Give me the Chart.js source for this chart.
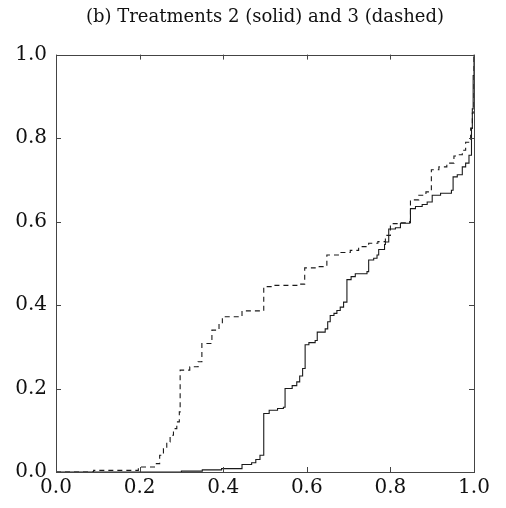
<!DOCTYPE html>
<html>
<head>
<meta charset="utf-8">
<script src="https://cdn.jsdelivr.net/npm/chart.js@4/dist/chart.umd.min.js"></script>
<style>
  html, body { margin: 0; padding: 0; background: #fff; }
  #wrap { width: 506px; height: 508px; position: relative; }
</style>
</head>
<body>
<div id="wrap"><canvas id="chart-ecdf"></canvas></div>
<script>
// Treatment 2 (solid) empirical CDF
const solidX = [0.0, 0.30, 0.35, 0.396, 0.445, 0.468, 0.478, 0.488, 0.497, 0.51, 0.53, 0.544, 0.548, 0.565, 0.576, 0.583, 0.59, 0.596, 0.605, 0.62, 0.625, 0.644, 0.65, 0.656, 0.665, 0.672, 0.68, 0.688, 0.696, 0.706, 0.716, 0.744, 0.748, 0.76, 0.768, 0.772, 0.786, 0.788, 0.796, 0.812, 0.824, 0.846, 0.848, 0.86, 0.876, 0.888, 0.9, 0.92, 0.946, 0.95, 0.96, 0.972, 0.98, 0.988, 0.994, 0.996, 0.998, 1.0];
const solidY = [0.0, 0.002, 0.005, 0.008, 0.018, 0.022, 0.03, 0.04, 0.14, 0.148, 0.152, 0.155, 0.2, 0.207, 0.216, 0.23, 0.248, 0.305, 0.31, 0.315, 0.335, 0.343, 0.36, 0.375, 0.38, 0.387, 0.395, 0.407, 0.461, 0.468, 0.475, 0.48, 0.508, 0.512, 0.52, 0.533, 0.545, 0.551, 0.582, 0.585, 0.596, 0.6, 0.631, 0.636, 0.641, 0.647, 0.663, 0.668, 0.675, 0.707, 0.712, 0.731, 0.74, 0.759, 0.823, 0.87, 0.95, 1.0];

// Treatment 3 (dashed) empirical CDF
const dashedX = [0.0, 0.09, 0.197, 0.24, 0.248, 0.257, 0.265, 0.273, 0.281, 0.289, 0.295, 0.297, 0.32, 0.34, 0.349, 0.373, 0.39, 0.398, 0.445, 0.497, 0.52, 0.584, 0.595, 0.62, 0.648, 0.68, 0.704, 0.724, 0.748, 0.77, 0.788, 0.8, 0.82, 0.848, 0.868, 0.885, 0.898, 0.916, 0.935, 0.952, 0.96, 0.972, 0.98, 0.992, 0.996, 1.0];
const dashedY = [0.0, 0.004, 0.012, 0.02, 0.04, 0.056, 0.072, 0.088, 0.104, 0.12, 0.144, 0.244, 0.252, 0.264, 0.308, 0.34, 0.356, 0.372, 0.386, 0.444, 0.447, 0.45, 0.489, 0.492, 0.52, 0.526, 0.531, 0.54, 0.548, 0.552, 0.567, 0.595, 0.597, 0.652, 0.663, 0.671, 0.724, 0.731, 0.74, 0.757, 0.76, 0.771, 0.79, 0.824, 0.86, 1.0];

const tickValues = [0, 0.2, 0.4, 0.6, 0.8, 1.0];
const titleText = '(b) Treatments 2 (solid) and 3 (dashed)';

const FONT = "'DejaVu Serif', 'Liberation Serif', serif";
const LINE = '#1a1a1a';
const FRAME = '#444';

const toPoints = (xs, ys) => xs.map((x, i) => ({ x, y: ys[i] }));

// Box frame with short inward ticks on all four sides
const framePlugin = {
  id: 'frame',
  afterDraw(chart) {
    const { ctx, chartArea: a, scales } = chart;
    const len = 5;
    ctx.save();
    ctx.strokeStyle = FRAME;
    ctx.lineWidth = 1;
    ctx.strokeRect(Math.round(a.left) + 0.5, Math.round(a.top) + 0.5, Math.round(a.right - a.left), Math.round(a.bottom - a.top));
    ctx.beginPath();
    tickValues.forEach(v => {
      const px = Math.round(scales.x.getPixelForValue(v)) + 0.5;
      ctx.moveTo(px, a.bottom); ctx.lineTo(px, a.bottom - len);
      ctx.moveTo(px, a.top); ctx.lineTo(px, a.top + len);
      const py = Math.round(scales.y.getPixelForValue(v)) + 0.5;
      ctx.moveTo(a.left, py); ctx.lineTo(a.left + len, py);
      ctx.moveTo(a.right, py); ctx.lineTo(a.right - len, py);
    });
    ctx.stroke();
    ctx.restore();
  },
};

new Chart(document.getElementById('chart-ecdf'), {
  type: 'line',
  data: {
    datasets: [
      {
        label: 'Treatment 2',
        data: toPoints(solidX, solidY),
        stepped: true,
        borderColor: LINE,
        borderWidth: 1.1,
        pointRadius: 0,
        fill: false,
      },
      {
        label: 'Treatment 3',
        data: toPoints(dashedX, dashedY),
        stepped: true,
        borderColor: LINE,
        borderWidth: 1.1,
        borderDash: [5, 4],
        pointRadius: 0,
        fill: false,
      },
    ],
  },
  options: {
    responsive: true,
    maintainAspectRatio: false,
    animation: false,
    layout: { padding: { left: 0, right: 32, top: 0, bottom: 0 } },
    plugins: {
      legend: { display: false },
      tooltip: { enabled: false },
      title: {
        display: true,
        text: titleText,
        fullSize: false,
        color: '#111',
        font: { family: FONT, size: 18, weight: 'normal' },
        padding: { top: 7, bottom: 26 },
      },
    },
    scales: {
      x: {
        type: 'linear',
        min: 0,
        max: 1,
        grid: { display: false, drawTicks: false },
        border: { display: false },
        afterFit: s => { s.height = 36; },
        afterBuildTicks: s => { s.ticks = tickValues.map(v => ({ value: v })); },
        ticks: {
          color: '#111',
          padding: 4,
          maxRotation: 0,
          font: { family: FONT, size: 20 },
          callback: v => Number(v).toFixed(1),
        },
      },
      y: {
        type: 'linear',
        min: 0,
        max: 1,
        grid: { display: false, drawTicks: false },
        border: { display: false },
        afterFit: s => { s.width = 56; },
        afterBuildTicks: s => { s.ticks = tickValues.map(v => ({ value: v })); },
        ticks: {
          color: '#111',
          padding: 9,
          font: { family: FONT, size: 20 },
          callback: v => Number(v).toFixed(1),
        },
      },
    },
  },
  plugins: [framePlugin],
});
</script>
</body>
</html>
